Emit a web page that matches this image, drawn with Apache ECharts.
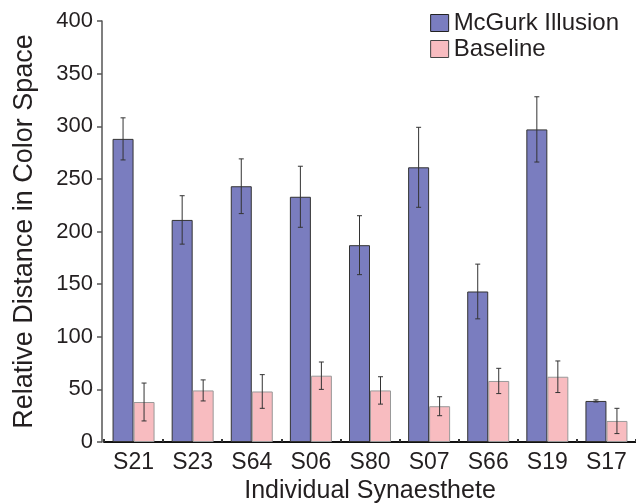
<!DOCTYPE html>
<html>
<head>
<meta charset="utf-8">
<script src="https://cdn.jsdelivr.net/npm/echarts@6/dist/echarts.min.js"></script>
<style>
html,body{margin:0;padding:0;background:#fff;}
#chart{width:636px;height:504px;}
</style>
</head>
<body>
<div id="chart"></div>
<script>
var categories = ['S21','S23','S64','S06','S80','S07','S66','S19','S17'];
var mcgurk = [288, 211, 243, 233, 187, 261, 143, 297, 39];
var mcgurkErr = [20, 23, 26, 29, 28, 38, 26, 31, 1];
var baseline = [38, 49, 48, 63, 49, 34, 58, 62, 20];
var baselineErr = [18, 10, 16, 13, 13, 9, 12, 15, 12];
var yTicks = [0, 50, 100, 150, 200, 250, 300, 350, 400];

var FONT = '"Liberation Sans", Arial, sans-serif';
var BAR_W = 21;

function errSeries(values, errs, side) {
  var data = values.map(function (v, i) { return [i, v, errs[i]]; });
  return {
    type: 'custom',
    silent: true,
    z: 10,
    data: data,
    renderItem: function (params, api) {
      var i = api.value(0), v = api.value(1), e = api.value(2);
      var hi = api.coord([i, v + e]);
      var lo = api.coord([i, v - e]);
      var x = hi[0] + side * BAR_W / 2;
      var cap = 2.5;
      var st = { stroke: '#333', lineWidth: 1 };
      return {
        type: 'group',
        children: [
          { type: 'line', shape: { x1: x, y1: hi[1], x2: x, y2: lo[1] }, style: st },
          { type: 'line', shape: { x1: x - cap, y1: hi[1], x2: x + cap, y2: hi[1] }, style: st },
          { type: 'line', shape: { x1: x - cap, y1: lo[1], x2: x + cap, y2: lo[1] }, style: st }
        ]
      };
    }
  };
}

var chart = echarts.init(document.getElementById('chart'), null, { renderer: 'canvas' });
chart.setOption({
  animation: false,
  backgroundColor: '#fff',
  textStyle: { fontFamily: FONT },
  grid: { left: 104, right: 0, top: 21, bottom: 62, outerBoundsMode: 'none', containLabel: false },
  legend: {
    orient: 'vertical',
    right: 17,
    top: 11,
    padding: 0,
    itemWidth: 18,
    itemHeight: 17,
    itemGap: 2,
    icon: 'rect',
    textStyle: { fontFamily: FONT, fontSize: 24, color: '#231f20' },
    data: [
      { name: 'McGurk Illusion', itemStyle: { borderColor: '#222', borderWidth: 1 } },
      { name: 'Baseline', itemStyle: { borderColor: '#444', borderWidth: 1 } }
    ]
  },
  xAxis: {
    type: 'category',
    data: categories,
    name: 'Individual Synaesthete',
    nameLocation: 'middle',
    nameGap: 37,
    nameTextStyle: { fontFamily: FONT, fontSize: 25, color: '#231f20' },
    axisLine: { lineStyle: { color: '#111', width: 2 } },
    axisTick: { show: true, inside: true, length: 3, lineStyle: { color: '#333', width: 2 } },
    axisLabel: { fontFamily: FONT, fontSize: 23, color: '#231f20', margin: 9 }
  },
  yAxis: {
    type: 'value',
    min: 0,
    max: 400,
    interval: 50,
    offset: 2,
    name: 'Relative Distance in Color Space',
    nameLocation: 'middle',
    nameGap: 64,
    nameTextStyle: { fontFamily: FONT, fontSize: 27, color: '#231f20' },
    axisLine: { show: true, lineStyle: { color: '#555', width: 1.5 } },
    axisTick: { show: true, length: 5, lineStyle: { color: '#555', width: 1.5 } },
    axisLabel: {
      fontFamily: FONT, fontSize: 22, color: '#231f20', margin: 9,
      formatter: function (v) { return yTicks.indexOf(v) >= 0 ? String(v) : ''; }
    },
    splitLine: { show: false }
  },
  series: [
    {
      name: 'McGurk Illusion',
      type: 'bar',
      data: mcgurk,
      barWidth: BAR_W,
      barGap: '0%',
      itemStyle: { color: '#7a7dbf', borderColor: '#333', borderWidth: 1 }
    },
    {
      name: 'Baseline',
      type: 'bar',
      data: baseline,
      barWidth: BAR_W,
      barGap: '0%',
      itemStyle: { color: '#f8bcc0', borderColor: '#999', borderWidth: 1 }
    },
    errSeries(mcgurk, mcgurkErr, -1),
    errSeries(baseline, baselineErr, 1)
  ]
});
</script>
</body>
</html>
